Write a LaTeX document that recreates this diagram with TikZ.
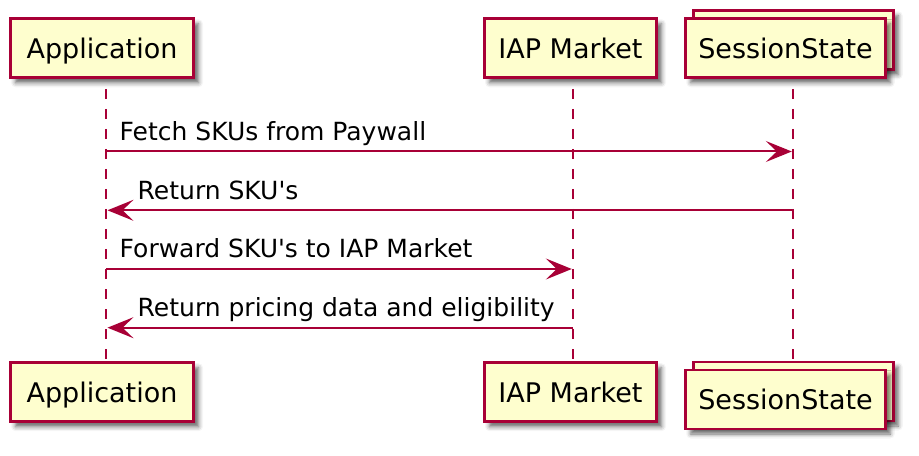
\documentclass[tikz,border=0pt]{standalone}
\usepackage{fontspec}
\setmainfont{DejaVu Sans}[Ligatures=TeXOff]
\usetikzlibrary{arrows.meta,shadows.blur}
\definecolor{plborder}{HTML}{A80036}
\definecolor{plfill}{HTML}{FEFECE}
\tikzset{
  pshadow/.style={blur shadow={shadow xshift=5bp, shadow yshift=-5bp, shadow blur radius=4.5bp, shadow opacity=60}},
  pbox/.style={draw=plborder, fill=plfill, line width=2.8bp, inner sep=0pt,
    minimum height=59bp, text height=20bp, text depth=0bp,
    font=\fontsize{27bp}{32bp}\selectfont, pshadow},
  pback/.style={draw=plborder, fill=plfill, line width=2.8bp, inner sep=0pt,
    minimum height=59bp, pshadow},
  lifeline/.style={draw=plborder, line width=2bp, dash pattern=on 10bp off 10bp, dash phase=10bp},
  msg/.style={draw=plborder, line width=2bp, -{Stealth[length=26bp, width=21bp, inset=11bp]}, shorten >=1.5bp},
  msglabel/.style={anchor=base west, inner sep=0pt, font=\fontsize{25bp}{30bp}\selectfont}
}
\begin{document}
\begin{tikzpicture}[x=1bp, y=-1bp]
\useasboundingbox (0,0) rectangle (919,456);

% lifeline end points
\coordinate (appTop) at (106,79);
\coordinate (appBot) at (106,361);
\coordinate (iapTop) at (573.3,79);
\coordinate (iapBot) at (573.3,361);
\coordinate (ssTop) at (793.3,79);
\coordinate (ssBot) at (793.3,360);

\draw[lifeline] (appTop) -- (appBot);
\draw[lifeline] (iapTop) -- (iapBot);
\draw[lifeline] (ssTop) -- (ssBot);

% top participants
\node[pbox, minimum width=183bp] (appT) at (102,48.3) {Application};
\node[pbox, minimum width=172bp] (iapT) at (570.5,48.3) {IAP Market};
\node[pback, minimum width=199.5bp] (ssTback) at (793.5,40.3) {};
\node[pbox, minimum width=199.5bp] (ssT) at (785.5,48.3) {SessionState};

% bottom participants
\node[pbox, minimum width=183bp] (appB) at (102,392.2) {Application};
\node[pbox, minimum width=172bp] (iapB) at (570.5,392.2) {IAP Market};
\node[pback, minimum width=199.5bp] (ssBback) at (793.5,391.5) {};
\node[pbox, minimum width=199.5bp] (ssB) at (785.5,399.5) {SessionState};

% message anchor points on lifelines
\coordinate (a1) at (106,151.5);   \coordinate (s1) at (793.3,151.5);
\coordinate (a2) at (106,210.3);   \coordinate (s2) at (793.3,210.3);
\coordinate (a3) at (106,269);     \coordinate (i3) at (573.3,269);
\coordinate (a4) at (106,327.7);   \coordinate (i4) at (573.3,327.7);

\draw[msg] (a1) -- (s1);
\draw[msg] (s2) -- (a2);
\draw[msg] (a3) -- (i3);
\draw[msg] (i4) -- (a4);

\node[msglabel] (l1) at (119.5,140.5) {Fetch SKUs from Paywall};
\node[msglabel] (l2) at (137.5,199.3) {Return SKU's};
\node[msglabel] (l3) at (119.5,258) {Forward SKU's to IAP Market};
\node[msglabel] (l4) at (137.5,316.7) {Return pricing data and eligibility};
\end{tikzpicture}
\end{document}
